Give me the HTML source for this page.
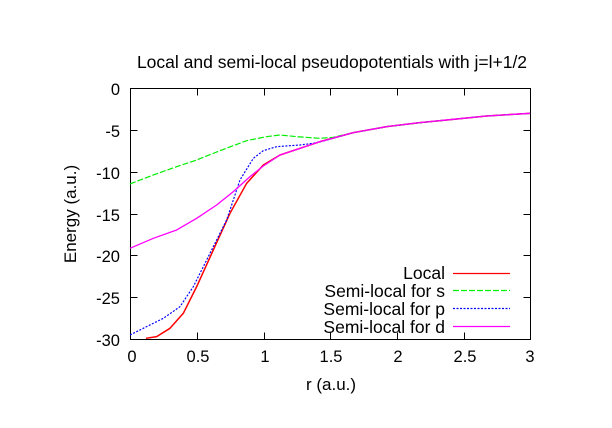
<!DOCTYPE html>
<html><head><style>body{margin:0;background:#fff}svg{display:block}text{font-family:"Liberation Sans",sans-serif;fill:#000}</style></head><body>
<svg width="612" height="428" viewBox="0 0 612 428" xmlns="http://www.w3.org/2000/svg">
<rect width="612" height="428" fill="#fff"/>
<text x="332" y="68" font-size="17.5" text-anchor="middle">Local and semi-local pseudopotentials with j=l+1/2</text>
<g stroke="#000" stroke-width="1" fill="none">
<rect x="130.5" y="88.5" width="400" height="251"/>
<path d="M130.5 130.5h7M130.5 172.5h7M130.5 214.5h7M130.5 255.5h7M130.5 297.5h7M530.5 130.5h-7M530.5 172.5h-7M530.5 214.5h-7M530.5 255.5h-7M530.5 297.5h-7M197.5 339.5v-7M264.5 339.5v-7M330.5 339.5v-7M397.5 339.5v-7M464.5 339.5v-7M197.5 88.5v7M264.5 88.5v7M330.5 88.5v7M397.5 88.5v7M464.5 88.5v7"/>
</g>
<g font-size="16.5" text-anchor="end">
<text x="120" y="95">0</text><text x="120" y="137">-5</text><text x="120" y="179">-10</text><text x="120" y="221">-15</text><text x="120" y="262">-20</text><text x="120" y="304">-25</text><text x="120" y="346">-30</text>
</g>
<g font-size="16.5" text-anchor="middle">
<text x="132" y="362">0</text><text x="198" y="362">0.5</text><text x="265" y="362">1</text><text x="331" y="362">1.5</text><text x="398" y="362">2</text><text x="465" y="362">2.5</text><text x="530" y="362">3</text>
<text x="331" y="390" font-size="17">r (a.u.)</text>
<text transform="translate(76,214) rotate(-90)" font-size="17">Energy (a.u.)</text>
</g>
<g transform="translate(120,80) scale(0.3333)" fill="none" stroke-linejoin="round">
<path vector-effect="non-scaling-stroke" stroke="#ff0000" stroke-width="1.5" d="M78 775L110 770L150 745L190 700L230 620L280 510L330 400L380 310L430 255L480 225L540 205L600 185L700 158L800 140L900 128L1000 118L1100 108L1230 100"/>
<path vector-effect="non-scaling-stroke" stroke="#00ee00" stroke-width="1.2" stroke-dasharray="6 2" d="M30 312L100 285L170 260L230 240L300 212L380 182L440 170L480 165L530 170L600 175L640 172L700 158L800 140L900 128L1000 118L1100 108L1230 100"/>
<path vector-effect="non-scaling-stroke" stroke="#0000ff" stroke-width="1.2" stroke-dasharray="2 1.5" d="M30 765L80 740L130 715L180 680L220 620L270 520L320 420L360 300L400 235L430 212L470 200L540 195L580 190L610 183L700 158L800 140L900 128L1000 118L1100 108L1230 100"/>
<path vector-effect="non-scaling-stroke" stroke="#ff00ff" stroke-width="1.3" d="M30 505L100 475L170 450L230 415L290 375L340 335L390 290L430 258L480 225L540 205L600 185L700 158L800 140L900 128L1000 118L1100 108L1230 100"/>
</g>
<g font-size="17.5" text-anchor="end">
<text x="445" y="279">Local</text>
<text x="445" y="297">Semi-local for s</text>
<text x="445" y="315">Semi-local for p</text>
<text x="445" y="333">Semi-local for d</text>
</g>
<g stroke-width="1.3">
<line x1="453" y1="273.5" x2="510" y2="273.5" stroke="#ff0000"/>
<line x1="453" y1="290.5" x2="510" y2="290.5" stroke="#00ee00" stroke-dasharray="6 2"/>
<line x1="453" y1="308.5" x2="510" y2="308.5" stroke="#0000ff" stroke-dasharray="2 1.5"/>
<line x1="453" y1="326.5" x2="510" y2="326.5" stroke="#ff00ff"/>
</g>
</svg>
</body></html>
